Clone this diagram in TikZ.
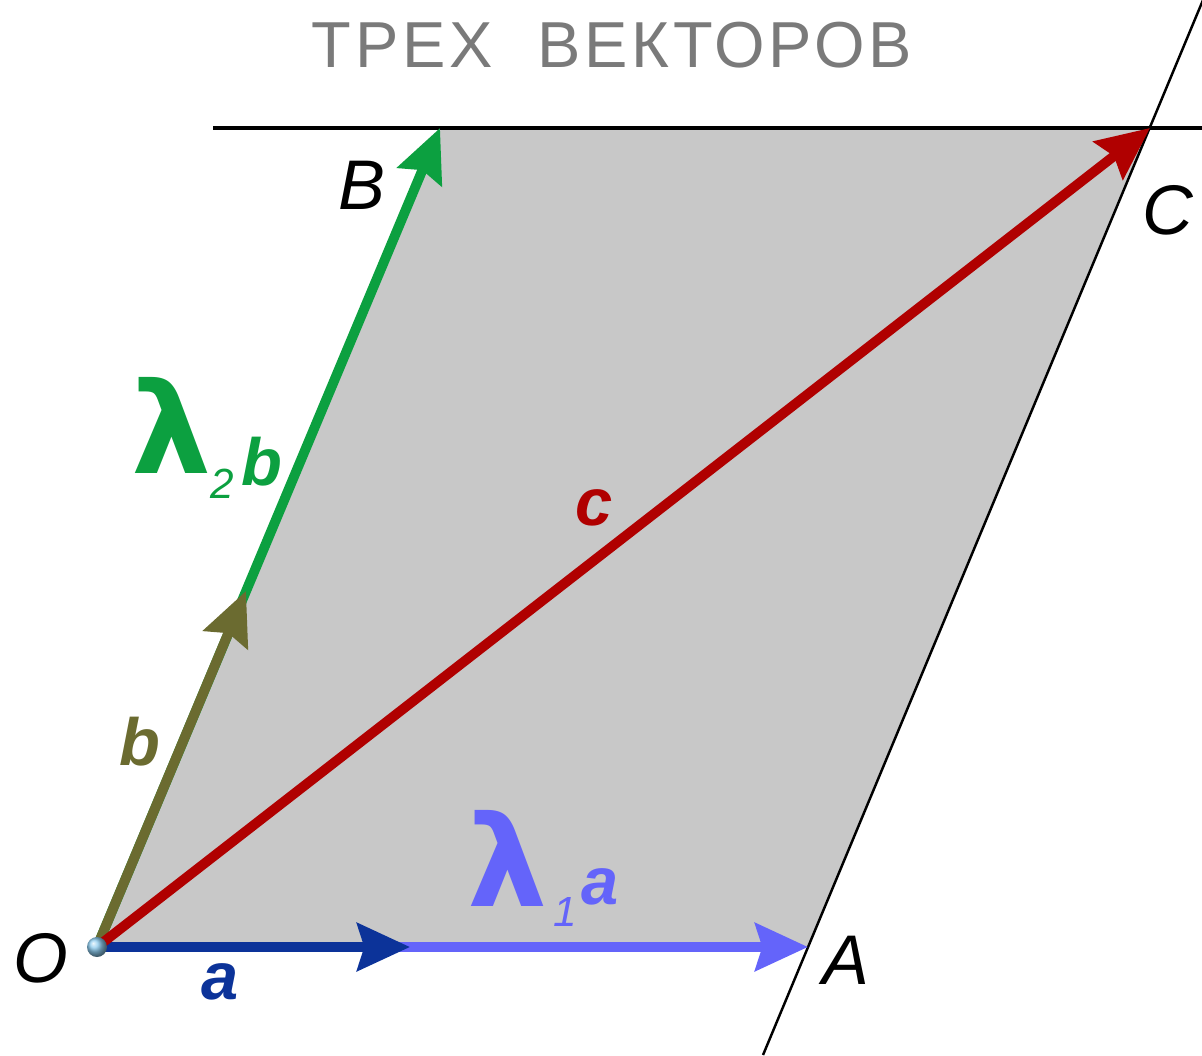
\documentclass[tikz,border=0pt]{standalone}
\usepackage{fontspec}
\setmainfont{Liberation Sans}
\newfontfamily\lamfont{DejaVu Sans}
\usetikzlibrary{arrows.meta}
\definecolor{fillgray}{HTML}{C8C8C8}
\definecolor{titlegray}{HTML}{7A7A7A}
\definecolor{vdarkblue}{HTML}{0C3399}
\definecolor{vlightblue}{HTML}{6464FA}
\definecolor{vgreen}{HTML}{0CA040}
\definecolor{volive}{HTML}{6B6B30}
\definecolor{vred}{HTML}{B00000}
\definecolor{dotblue}{HTML}{8CCBEE}
\tikzset{
  vec/.style={line width=5.6pt, -{Stealth[length=30pt,width=27pt,inset=4pt]}},
  guide/.style={line width=1.4pt, black},
  ptlabel/.style={font=\fontsize{40}{44}\selectfont\itshape, inner sep=0pt},
  veclabel/.style={font=\fontsize{38}{42}\selectfont\bfseries\itshape, inner sep=0pt},
  lamlabel/.style={font=\fontsize{72}{76}\selectfont\lamfont\bfseries, inner sep=0pt},
  sublabel/.style={font=\fontsize{24}{26}\selectfont\itshape, inner sep=0pt},
}
\begin{document}
\begin{tikzpicture}[x=0.02cm, y=-0.02cm]
\useasboundingbox (0,0) rectangle (1202,1055);
\coordinate (O) at (97,947);
\coordinate (A) at (808,947);
\coordinate (B) at (440,128);
\coordinate (C) at (1150,128);
\coordinate (Ta) at (410,947);
\coordinate (Tb) at (246,591);
\coordinate (Hl) at (213,128);
\coordinate (Hr) at (1202,128);
\coordinate (Sb) at (763,1055);
\coordinate (St) at (1203,0);
% parallelogram
\fill[fillgray] (O) -- (A) -- (C) -- (B) -- cycle;
% guide lines
\draw[line width=2.2pt] (Hl) -- (Hr);
\draw[guide] (Sb) -- (St);
% title
\node[font=\fontsize{37}{40}\selectfont\addfontfeatures{LetterSpace=6}, text=titlegray, inner sep=0pt] (title) at (612,45) {ТРЕХ\ \ ВЕКТОРОВ};
% vectors
\draw[vec, vlightblue] (O) -- (A);
\draw[vec, vdarkblue] (O) -- (Ta);
\draw[vec, vgreen] (O) -- (B);
\draw[vec, volive] (O) -- (Tb);
\draw[vec, vred] (O) -- (C);
% origin dot
\shade[ball color=dotblue] (O) circle (10);
\node[circle, inner sep=0pt, minimum size=1pt] (Odot) at (O) {};
% point labels
\node[ptlabel] (lO) at (41,958) {O};
\node[ptlabel] (lA) at (846,960) {A};
\node[ptlabel] (lB) at (362,185) {B};
\node[ptlabel] (lC) at (1168,210) {C};
% vector labels
\node[veclabel, text=vdarkblue] (la) at (220,982) {a};
\node[veclabel, text=volive] (lb) at (140,742) {b};
\node[veclabel, text=vred] (lc) at (594,508) {c};
\node[lamlabel, text=vlightblue] (lam1) at (508,858) {λ};
\node[sublabel, text=vlightblue] (s1) at (565,912) {1};
\node[veclabel, text=vlightblue] (la1) at (600,887) {a};
\node[lamlabel, text=vgreen] (lam2) at (172,425) {λ};
\node[sublabel, text=vgreen] (s2) at (222,484) {2};
\node[veclabel, text=vgreen] (lb2) at (262,462) {b};
\end{tikzpicture}
\end{document}
